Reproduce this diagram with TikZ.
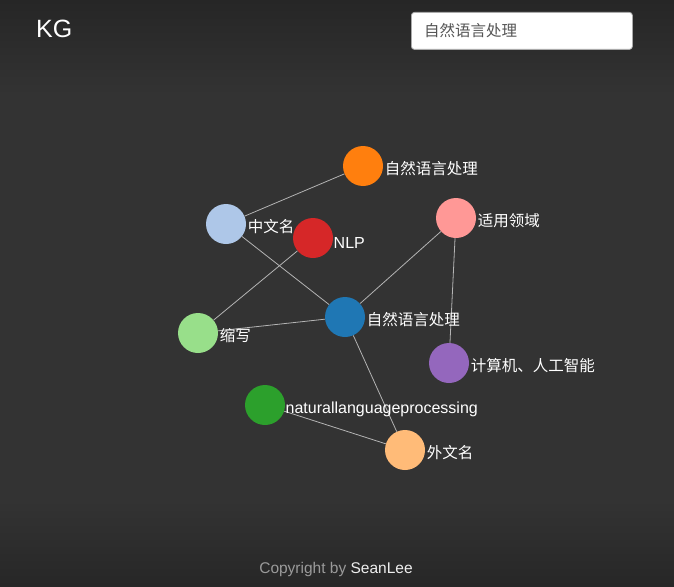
\documentclass[tikz,border=0pt]{standalone}
\usepackage{fontspec}
\setmainfont{Liberation Sans}
\newfontfamily\cjk{Noto Sans CJK SC}
\usetikzlibrary{positioning}

\definecolor{bgtop}{HTML}{262626}
\definecolor{bgmid}{HTML}{333333}
\definecolor{bgbot}{HTML}{272727}
\definecolor{linkgray}{HTML}{B4B4B4}
\definecolor{boxgray}{HTML}{AAAAAA}
\definecolor{querygray}{HTML}{555555}
\definecolor{footgray}{HTML}{9A9A9A}
\definecolor{footwhite}{HTML}{EEEEEE}
% d3 category20
\definecolor{cblue}{HTML}{1F77B4}
\definecolor{clblue}{HTML}{AEC7E8}
\definecolor{corange}{HTML}{FF7F0E}
\definecolor{cpeach}{HTML}{FFBB78}
\definecolor{cgreen}{HTML}{2CA02C}
\definecolor{clgreen}{HTML}{98DF8A}
\definecolor{cred}{HTML}{D62728}
\definecolor{cpink}{HTML}{FF9896}
\definecolor{cpurple}{HTML}{9467BD}

\tikzset{
  ent/.style={circle, inner sep=0pt, minimum size=40pt},
  link/.style={draw=linkgray, line width=0.8pt},
  lbl/.style={text=white, inner sep=0pt, anchor=west, right=1.5pt of #1, yshift=-2.5pt,
    font=\cjk\fontsize{15.5}{16}\selectfont},
  lbllat/.style={lbl=#1, right=0.3pt of #1, yshift=-2pt, font=\fontsize{16}{16}\selectfont}
}

\begin{document}
\begin{tikzpicture}[x=1pt, y=-1pt]
  \useasboundingbox (0,0) rectangle (674,586);
  % background
  \fill[bgmid] (0,0) rectangle (674,586);
  \shade[top color=bgtop, bottom color=bgmid] (0,0) rectangle (674,95);
  \shade[top color=bgmid, bottom color=bgbot] (0,500) rectangle (674,586);

  % header
  \node[text=white, font=\fontsize{25}{25}\selectfont, anchor=west, inner sep=0pt] (title) at (36,29) {KG};
  \node[draw=boxgray, fill=white, rounded corners=3pt, line width=0.8pt,
        minimum width=221pt, minimum height=37pt, anchor=north west] (search) at (411,12) {};
  \node[text=querygray, font=\cjk\fontsize{15.5}{16}\selectfont, anchor=west, inner sep=0pt] (query) at (424,31) {自然语言处理};

  % entities
  \node[ent, fill=corange] (nlpzh) at (363,166) {};
  \node[ent, fill=clblue] (cname) at (226,224) {};
  \node[ent, fill=cred] (nlp) at (313,238) {};
  \node[ent, fill=cpink] (field) at (456,218) {};
  \node[ent, fill=clgreen] (abbr) at (198,333) {};
  \node[ent, fill=cblue] (center) at (345,317) {};
  \node[ent, fill=cpurple] (ai) at (449,363) {};
  \node[ent, fill=cgreen] (nlpen) at (265,405) {};
  \node[ent, fill=cpeach] (fname) at (405,450) {};

  % relations
  \draw[link] (cname) -- (nlpzh);
  \draw[link] (cname) -- (center);
  \draw[link] (nlp) -- (abbr);
  \draw[link] (abbr) -- (center);
  \draw[link] (center) -- (field);
  \draw[link] (field) -- (ai);
  \draw[link] (center) -- (fname);
  \draw[link] (nlpen) -- (fname);

  % labels
  \node[lbl=nlpzh] (nlpzh-l) {自然语言处理};
  \node[lbl=cname] (cname-l) {中文名};
  \node[lbllat=nlp] (nlp-l) {NLP};
  \node[lbl=field] (field-l) {适用领域};
  \node[lbl=abbr] (abbr-l) {缩写};
  \node[lbl=center] (center-l) {自然语言处理};
  \node[lbl=ai] (ai-l) {计算机、人工智能};
  \node[lbllat=nlpen] (nlpen-l) {naturallanguageprocessing};
  \node[lbl=fname] (fname-l) {外文名};

  % footer
  \node[font=\fontsize{15.5}{16}\selectfont] (copy) at (336,569)
    {\textcolor{footgray}{Copyright by} \textcolor{footwhite}{SeanLee}};
\end{tikzpicture}
\end{document}
